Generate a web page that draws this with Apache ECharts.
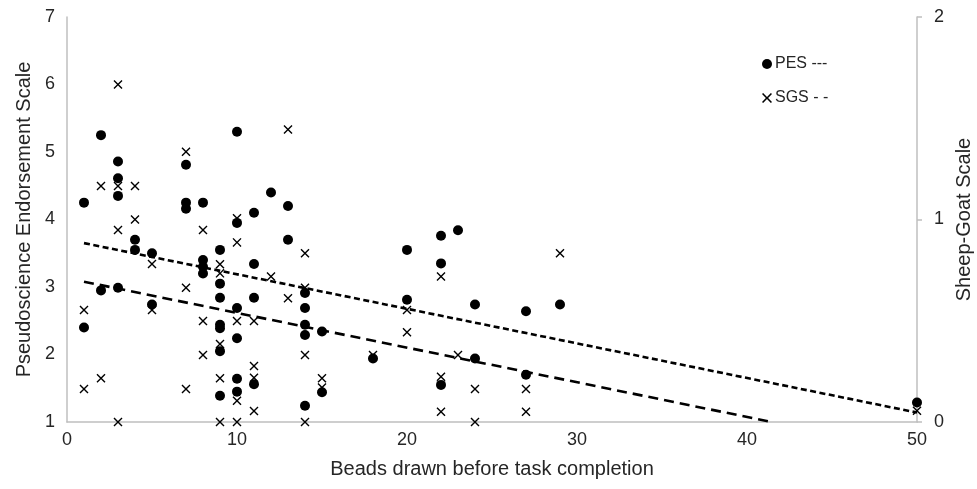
<!DOCTYPE html>
<html>
<head>
<meta charset="utf-8">
<script src="https://cdn.jsdelivr.net/npm/echarts@6/dist/echarts.min.js"></script>
<style>
html,body{margin:0;padding:0;background:#fff;}
#chart{width:977px;height:489px;}
</style>
</head>
<body>
<div id="chart"></div>
<script>
// ---- data ----
var pesX = [1,1, 2,2, 3,3,3,3, 4,4, 5,5, 7,7,7, 8,8,8,8, 9,9,9,9,9,9,9, 10,10,10,10,10,10, 11,11,11,11, 12, 13,13, 14,14,14,14,14, 15,15, 18, 20,20, 22,22,22, 23, 24,24, 27,27, 29, 50];
var pesY = [4.25,2.40, 5.25,2.95, 4.86,4.61,4.35,2.99, 3.70,3.55, 3.50,2.74, 4.81,4.25,4.16, 4.25,3.40,3.30,3.20, 3.55,3.05,2.84,2.44,2.39,2.05,1.39, 5.30,3.95,2.69,2.24,1.64,1.45, 4.10,3.34,2.84,1.56, 4.40, 4.20,3.70, 2.91,2.69,2.44,2.29,1.24, 2.34,1.44, 1.94, 3.55,2.81, 3.76,3.35,1.55, 3.84, 2.74,1.94, 2.64,1.70, 2.74, 1.29];
var sgsX = [1,1, 2,2, 3,3,3,3, 4,4, 5,5, 7,7,7, 8,8,8, 9,9,9,9,9, 10,10,10,10,10, 11,11,11,11, 12, 13,13, 14,14,14,14, 15,15, 18, 20,20, 22,22,22, 23, 24,24, 27,27, 29, 50];
var sgsY = [0.553,0.163, 1.165,0.216, 1.667,1.165,0.948,0, 1.165,1.0, 0.78,0.553, 1.335,0.663,0.163, 0.948,0.499,0.331, 0.779,0.734,0.385,0.216,0, 1.006,0.887,0.499,0.105,0, 0.499,0.277,0.219,0.054, 0.718, 1.445,0.611, 0.833,0.663,0.331,0, 0.216,0.17, 0.331, 0.553,0.443, 0.718,0.224,0.051, 0.331, 0.163,0, 0.163,0.051, 0.833, 0.056];
// trend lines (end points)
var pesTrendX = [1, 50];
var pesTrendY = [3.65, 1.14];
var sgsTrendX = [1, 41.45];
var sgsTrendY = [0.693, 0];
var seriesNames = ['PES', 'SGS'];
var legendLabels = ['PES ---', 'SGS - -'];
var xTicks = [0, 10, 20, 30, 40, 50];
var leftTicks = [1, 2, 3, 4, 5, 6, 7];
var rightTicks = [0, 1, 2];

function zip(a, b){ return a.map(function(v, i){ return [v, b[i]]; }); }

var FONT = "'Liberation Sans', Arial, sans-serif";
var TXT = '#262626';
var AX = '#bfbfbf';
var crossPath = 'path://M0,1.1L1.1,0L5,3.9L8.9,0L10,1.1L6.1,5L10,8.9L8.9,10L5,6.1L1.1,10L0,8.9L3.9,5Z';

var chart = echarts.init(document.getElementById('chart'), null, {renderer: 'canvas'});
chart.setOption({
  animation: false,
  backgroundColor: '#fff',
  textStyle: {fontFamily: FONT},
  grid: {left: 67, right: 60, top: 17, bottom: 67, containLabel: false, outerBoundsMode: 'none'},
  legend: {
    orient: 'vertical',
    left: 757, top: 51,
    itemWidth: 10, itemHeight: 10, itemGap: 18,
    data: [
      {name: seriesNames[0], icon: 'circle'},
      {name: seriesNames[1], icon: crossPath}
    ],
    formatter: function(n){ return legendLabels[seriesNames.indexOf(n)]; },
    textStyle: {fontFamily: FONT, fontSize: 16, color: TXT, padding: [0,0,0,-2]}
  },
  xAxis: {
    type: 'value', min: 0, max: 50, interval: 10,
    name: 'Beads drawn before task completion',
    nameLocation: 'middle', nameGap: 37,
    nameTextStyle: {fontFamily: FONT, fontSize: 20, color: TXT},
    axisLine: {show: true, lineStyle: {color: AX, width: 1.5}},
    axisTick: {show: false},
    splitLine: {show: false},
    axisLabel: {fontFamily: FONT, fontSize: 18, color: TXT, margin: 9,
      formatter: function(v){ return xTicks.indexOf(v) >= 0 ? String(v) : ''; }}
  },
  yAxis: [{
    type: 'value', min: 1, max: 7, interval: 1, position: 'left',
    name: 'Pseudoscience Endorsement Scale',
    nameLocation: 'middle', nameGap: 33, nameRotate: 90,
    nameTextStyle: {fontFamily: FONT, fontSize: 20, color: TXT},
    axisLine: {show: true, lineStyle: {color: AX, width: 1.5}},
    axisTick: {show: false},
    splitLine: {show: false},
    axisLabel: {fontFamily: FONT, fontSize: 18, color: TXT, margin: 12,
      formatter: function(v){ return leftTicks.indexOf(v) >= 0 ? String(v) : ''; }}
  }, {
    type: 'value', min: 0, max: 2, interval: 1, position: 'right',
    name: 'Sheep-Goat Scale',
    nameLocation: 'middle', nameGap: 36, nameRotate: 90,
    nameTextStyle: {fontFamily: FONT, fontSize: 20, color: TXT},
    axisLine: {show: true, lineStyle: {color: AX, width: 1.5}},
    axisTick: {show: true, length: 5, lineStyle: {color: AX, width: 1.5}},
    splitLine: {show: false},
    axisLabel: {fontFamily: FONT, fontSize: 18, color: TXT, margin: 17,
      formatter: function(v){ return rightTicks.indexOf(v) >= 0 ? String(v) : ''; }}
  }],
  series: [{
    name: seriesNames[0], type: 'scatter', yAxisIndex: 0,
    symbol: 'circle', symbolSize: 10,
    itemStyle: {color: '#000', opacity: 1},
    data: zip(pesX, pesY), z: 3
  }, {
    name: seriesNames[1], type: 'scatter', yAxisIndex: 1,
    symbol: crossPath, symbolSize: 9,
    itemStyle: {color: '#000', opacity: 1},
    data: zip(sgsX, sgsY), z: 4
  }, {
    name: 'PES trend', type: 'line', yAxisIndex: 0,
    symbol: 'none', silent: true,
    lineStyle: {color: '#000', width: 2.6, type: [6, 3.5]},
    data: zip(pesTrendX, pesTrendY), z: 2
  }, {
    name: 'SGS trend', type: 'line', yAxisIndex: 1,
    symbol: 'none', silent: true,
    lineStyle: {color: '#000', width: 2.6, type: [10, 6]},
    data: zip(sgsTrendX, sgsTrendY), z: 2
  }]
});
</script>
</body>
</html>
